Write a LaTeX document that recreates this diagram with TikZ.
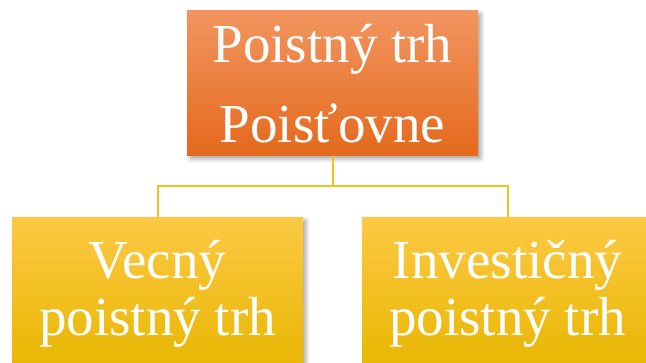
\documentclass[tikz,border=0pt]{standalone}
\usepackage{fontspec}
\setmainfont{Liberation Serif}
\usetikzlibrary{positioning,shadows.blur}
\definecolor{orTop}{HTML}{F29560}
\definecolor{orBot}{HTML}{E4691C}
\definecolor{yeTop}{HTML}{FCC944}
\definecolor{yeMid}{HTML}{FBC400}
\definecolor{yeBot}{HTML}{E8B600}
\definecolor{lnk}{HTML}{F3C11E}

\begin{document}
\begin{tikzpicture}[x=1pt,y=-1pt,
  box/.style={minimum width=291pt,inner sep=0pt,text=white,align=center,
    blur shadow={shadow xshift=3pt,shadow yshift=-3pt,shadow blur radius=4pt,shadow opacity=35}},
  topbox/.style={box,minimum height=145pt,top color=orTop,bottom color=orBot,
    font=\fontsize{55}{80}\selectfont},
  subbox/.style={box,minimum height=154pt,top color=yeTop,middle color=yeMid,bottom color=yeBot,
    font=\fontsize{55}{57}\selectfont},
  link/.style={draw=lnk,line width=2pt}]
\useasboundingbox (0,0) rectangle (646,363);
\clip (0,0) rectangle (646,363);
\node[topbox] (trh) at (332.5,83.5) {Poistný trh\\Poisťovne};
\node[subbox,anchor=north] (vecny) at (157.5,217) {Vecný\\poistný trh};
\node[subbox,anchor=north] (invest) at (507.5,217) {Investičný\\poistný trh};
\coordinate (j) at (332.5,186);
\draw[link] (trh.south) -- (j) (vecny.north) |- (j) -| (invest.north);
\end{tikzpicture}
\end{document}
